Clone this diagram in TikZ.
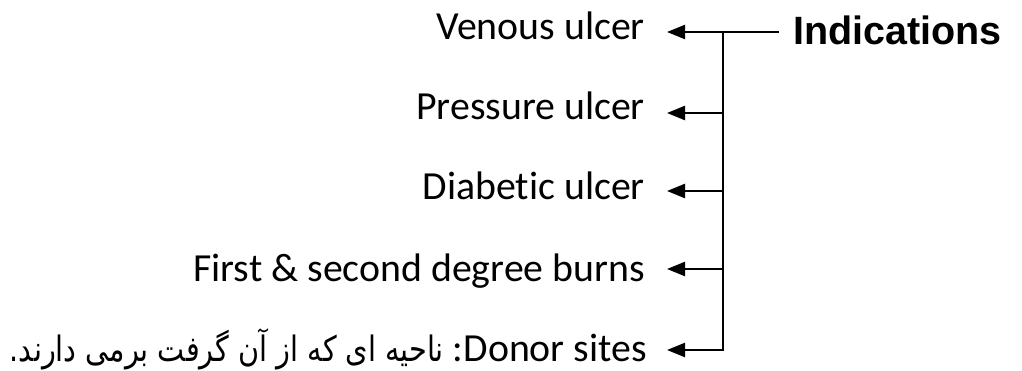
\documentclass[tikz,border=0pt]{standalone}
\usepackage{fontspec}
\setmainfont{Carlito}[Ligatures=NoCommon]
\newfontfamily\headfont{Liberation Sans}
\newfontfamily\arabicfont[Script=Arabic,FakeStretch=0.82]{DejaVu Sans}
\TeXXeTstate=1
\usetikzlibrary{arrows.meta}
\begin{document}
\begin{tikzpicture}[x=1pt,y=-1pt,
  item/.style={anchor=base east,inner sep=0pt,font=\fontsize{39.8}{44}\selectfont},
  head/.style={anchor=base west,inner sep=0pt,font=\headfont\bfseries\fontsize{39.5}{44}\selectfont},
  link/.style={line width=2.6pt},
  arr/.style={line width=2.3pt,-{Triangle[length=18pt,width=14pt]}}]
\useasboundingbox (0,0) rectangle (1022,371);
\node[head] (ind) at (793,45) {Indications};
\node[item] (v1) at (645,40) {Venous ulcer};
\node[item] (v2) at (645,120) {Pressure ulcer};
\node[item] (v3) at (645,200) {Diabetic ulcer};
\node[item] (v4) at (645,281) {First \& second degree burns};
\node[item] (v5) at (647,361) {{\arabicfont\fontsize{35}{40}\selectfont\beginR ناحیه ای که از آن گرفت برمی دارند.\endR}~:Donor sites};
\coordinate (h) at (779,32);
\coordinate (j1) at (723,32);
\coordinate (j2) at (723,113);
\coordinate (j3) at (723,191);
\coordinate (j4) at (723,269);
\coordinate (j5) at (723,350);
\coordinate (a1) at (667,32);
\coordinate (a2) at (667,113);
\coordinate (a3) at (667,191);
\coordinate (a4) at (667,269);
\coordinate (a5) at (667,350);
\draw[link] (h) -- (j1);
\draw[link] (j1) -- ([yshift=1.3pt]j5);
\draw[arr] (j1) -- (a1);
\draw[arr] (j2) -- (a2);
\draw[arr] (j3) -- (a3);
\draw[arr] (j4) -- (a4);
\draw[arr] ([xshift=1.3pt]j5) -- (a5);
\end{tikzpicture}
\end{document}
